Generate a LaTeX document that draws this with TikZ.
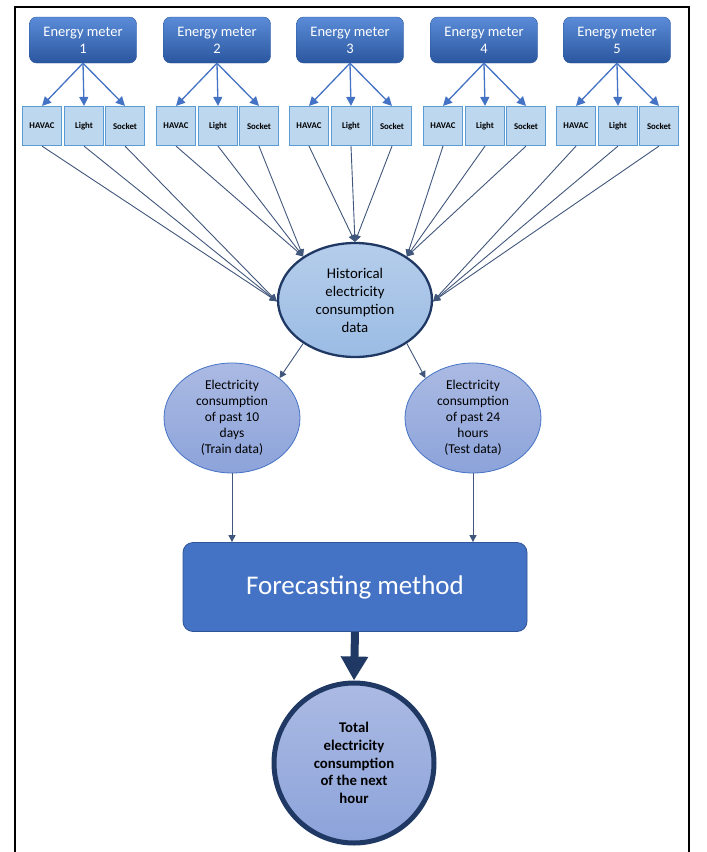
\documentclass[tikz,border=0pt]{standalone}
\usepackage{fontspec}
\setmainfont{Carlito}
\usetikzlibrary{shapes.geometric,arrows.meta,positioning}

\definecolor{meterdark}{HTML}{2A569E}
\definecolor{meterlight}{HTML}{5B8CD8}
\definecolor{boxfill}{HTML}{BDD7EE}
\definecolor{boxline}{HTML}{5B9BD5}
\definecolor{arrowblue}{HTML}{4472C4}
\definecolor{navy}{HTML}{203864}
\definecolor{histtop}{HTML}{B5CDEB}
\definecolor{histbot}{HTML}{9BBCE4}
\definecolor{splittop}{HTML}{ABBAE3}
\definecolor{splitbot}{HTML}{8CA3DA}
\definecolor{methodfill}{HTML}{4472C4}
\definecolor{methodline}{HTML}{2F5597}

\tikzset{
  meter/.style={rounded corners=7pt, top color=meterlight, bottom color=meterdark, draw=meterdark,
    minimum width=107pt, minimum height=46pt, text=white, align=center, inner sep=1pt,
    font=\fontsize{14.5}{17}\selectfont},
  load/.style={draw=boxline, fill=boxfill, line width=1.2pt, minimum width=39pt, minimum height=39pt,
    inner sep=0pt, font=\fontsize{8.8}{9}\selectfont\bfseries},
  feed/.style={-{Triangle[length=9pt,width=9pt]}, draw=arrowblue, fill=arrowblue, line width=1.3pt},
  collect/.style={-{Triangle[length=7pt,width=7pt]}, draw=navy!85, line width=0.9pt},
  histstyle/.style={ellipse, draw=navy, line width=2.3pt, top color=histtop, bottom color=histbot,
    minimum width=154pt, minimum height=114pt, inner sep=0pt, align=center,
    font=\fontsize{14.8}{18}\selectfont},
  splitstyle/.style={ellipse, draw=arrowblue, line width=0.8pt, top color=splittop, bottom color=splitbot,
    minimum width=136pt, minimum height=110pt, inner sep=0pt, align=center,
    font=\fontsize{13.5}{16}\selectfont},
  methodstyle/.style={rounded corners=10pt, draw=methodline, fill=methodfill, line width=0.8pt,
    minimum width=344pt, minimum height=89pt, text=white, font=\fontsize{27}{30}\selectfont},
  totalstyle/.style={circle, draw=navy, line width=5pt, top color=splittop, bottom color=splitbot,
    minimum size=160pt, inner sep=0pt, align=center, font=\fontsize{14.8}{17.7}\selectfont\bfseries}
}

\begin{document}
\begin{tikzpicture}[x=1pt,y=-1pt]
  \useasboundingbox (0,0) rectangle (707,852);
  % frame
  \draw[line width=2.5pt] (15,852) -- (15,7) -- (689,7) -- (689,852);

  \node[histstyle] (hist) at (355,300) {Historical\\electricity\\consumption\\data};

  % meters and their loads
  \foreach \i/\x/\a in {1/83/181, 2/217/140, 3/350/90, 4/484/40, 5/617/359} {
    \node[meter] (meter\i) at (\x,40) {Energy meter\\\i};
    \node[load] (havac\i) at (\x-41,126) {HAVAC};
    \node[load] (light\i) at (\x+1,126) {Light};
    \node[load] (socket\i) at (\x+42,126) {Socket};
    \draw[feed] (meter\i.south) -- (havac\i.north);
    \draw[feed] (meter\i.south) -- (light\i.north);
    \draw[feed] (meter\i.south) -- (socket\i.north);
    \draw[collect] (havac\i.south) -- (hist.\a);
    \draw[collect] (light\i.south) -- (hist.\a);
    \draw[collect] (socket\i.south) -- (hist.\a);
  }

  \node[splitstyle] (train) at (232,418) {Electricity\\consumption\\of past 10\\days\\(Train data)};
  \node[splitstyle] (test) at (473,418) {Electricity\\consumption\\of past 24\\hours\\(Test data)};
  \draw[collect] (hist.220) -- (train.40);
  \draw[collect] (hist.320) -- (test.140);

  \node[methodstyle] (method) at (355,587) {Forecasting method};
  \draw[collect] (train.south) -- (train.south |- method.north);
  \draw[collect] (test.south) -- (test.south |- method.north);

  \node[totalstyle] (total) at (354,763) {Total\\electricity\\consumption\\of the next\\hour};
  \draw[-{Triangle[length=24pt,width=26pt]}, draw=navy, fill=navy, line width=8pt] (method.south) -- (total.north);
\end{tikzpicture}
\end{document}
